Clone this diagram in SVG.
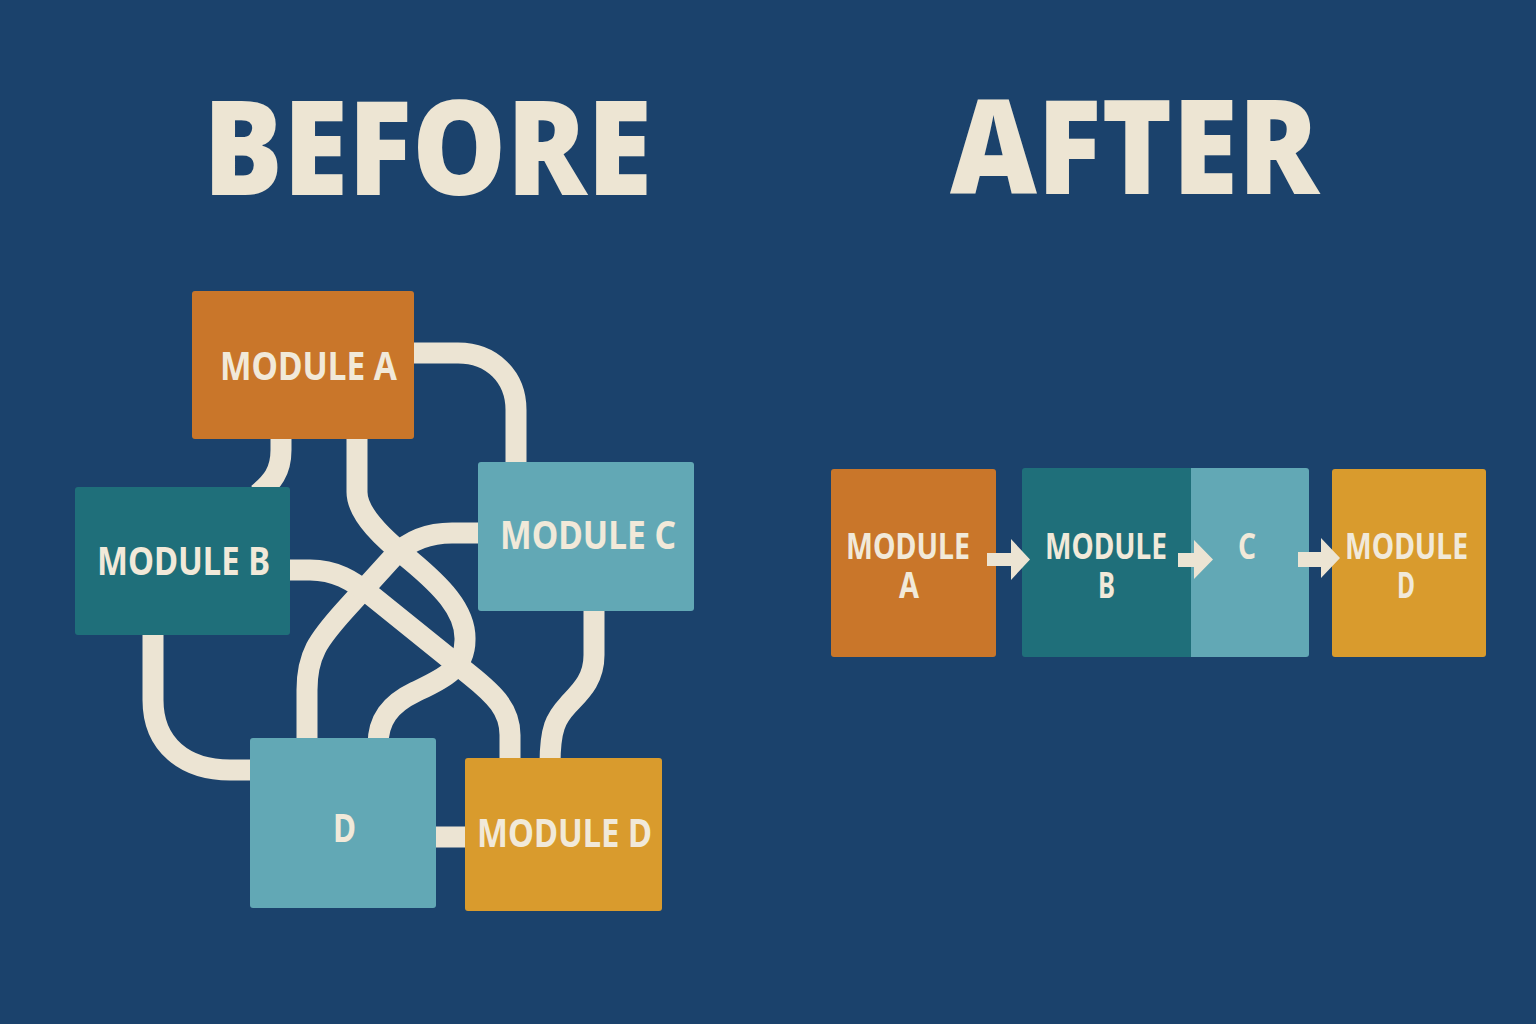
<svg xmlns="http://www.w3.org/2000/svg" width="1536" height="1024" viewBox="0 0 1536 1024">
<style>
.bg{fill:#1B426C}
.title{font-family:"Open Sans","Noto Sans",sans-serif;font-weight:800;font-size:132px;fill:#EDE5D3}
.lbl{font-family:"Noto Sans","Open Sans",sans-serif;font-weight:700;font-size:40px;fill:#F1E9D9}
.lbl2{font-family:"Noto Sans","Open Sans",sans-serif;font-weight:700;font-size:35px;fill:#F1E9D9}
.orange{fill:#C9762A}
.teal{fill:#1F6F7A}
.light{fill:#62A8B5}
.gold{fill:#D99B2D}
.tube{fill:none;stroke:#ECE4D3;stroke-width:21}
.arrow{fill:#ECE4D3}
</style>
<rect class="bg" x="0" y="0" width="1536" height="1024"/>
<text class="title" x="203" y="195" textLength="449" lengthAdjust="spacingAndGlyphs">BEFORE</text>
<text class="title" x="950" y="194" textLength="369" lengthAdjust="spacingAndGlyphs">AFTER</text>

<g id="connectors">
<path class="tube" d="M405,353 H458 C492,353 516,377 516,410 V468"/>
<path class="tube" d="M281,432 V450 C281,472 272,482 258,494"/>
<path class="tube" d="M357,432 V492 C357,515 385,540 410,560 C440,585 466,610 465,640 C465,670 440,680 415,692 C390,704 378,720 378,745"/>
<path class="tube" d="M485,533 H452 C428,533 410,540 395,555 L345,610 C318,640 307,655 307,690 V745"/>
<path class="tube" d="M282,570 H310 C335,570 352,580 372,596 L470,675 C495,695 510,710 510,735 V765"/>
<path class="tube" d="M594,604 V655 C594,680 580,692 568,705 C556,718 550,728 550,765"/>
<path class="tube" d="M153,628 V700 C153,745 185,770 230,770 H258"/>
<path class="tube" d="M430,837 H472"/>
</g>

<g id="before-module-a">
<rect class="orange" x="192" y="291" width="222" height="148" rx="3"/>
<text class="lbl" x="220" y="380" textLength="177" lengthAdjust="spacingAndGlyphs">MODULE A</text>
</g>
<g id="before-module-b">
<rect class="teal" x="75" y="487" width="215" height="148" rx="3"/>
<text class="lbl" x="97" y="575" textLength="173" lengthAdjust="spacingAndGlyphs">MODULE B</text>
</g>
<g id="before-module-c">
<rect class="light" x="478" y="462" width="216" height="149" rx="3"/>
<text class="lbl" x="500" y="549" textLength="176" lengthAdjust="spacingAndGlyphs">MODULE C</text>
</g>
<g id="before-d">
<rect class="light" x="250" y="738" width="186" height="170" rx="3"/>
<text class="lbl" x="333" y="842" textLength="23" lengthAdjust="spacingAndGlyphs">D</text>
</g>
<g id="before-module-d">
<rect class="gold" x="465" y="758" width="197" height="153" rx="3"/>
<text class="lbl" x="477" y="847" textLength="175" lengthAdjust="spacingAndGlyphs">MODULE D</text>
</g>

<g id="after-module-a">
<rect class="orange" x="831" y="469" width="165" height="188" rx="3"/>
<text class="lbl2" x="846" y="559" textLength="124" lengthAdjust="spacingAndGlyphs">MODULE</text>
<text class="lbl2" x="899" y="598" textLength="20" lengthAdjust="spacingAndGlyphs">A</text>
</g>
<g id="after-module-b">
<rect class="teal" x="1022" y="468" width="175" height="189" rx="3"/>
<text class="lbl2" x="1045" y="559" textLength="122" lengthAdjust="spacingAndGlyphs">MODULE</text>
<text class="lbl2" x="1098" y="598" textLength="17" lengthAdjust="spacingAndGlyphs">B</text>
</g>
<g id="after-c">
<path class="light" d="M1191,468 H1306 A3,3 0 0 1 1309,471 V654 A3,3 0 0 1 1306,657 H1191 Z"/>
<text class="lbl2" x="1238" y="559" textLength="18" lengthAdjust="spacingAndGlyphs">C</text>
</g>
<g id="after-module-d">
<rect class="gold" x="1332" y="469" width="154" height="188" rx="3"/>
<text class="lbl2" x="1345" y="559" textLength="123" lengthAdjust="spacingAndGlyphs">MODULE</text>
<text class="lbl2" x="1397" y="598" textLength="18" lengthAdjust="spacingAndGlyphs">D</text>
</g>

<g id="after-arrows">
<path class="arrow" d="M987,553 H1011 V539 L1030,559.5 L1011,580 V566 H987 Z"/>
<path class="arrow" d="M1178,553 H1194 V540 L1213,559.5 L1194,579 V567 H1178 Z"/>
<path class="arrow" d="M1298,552 H1321 V538 L1340,558 L1321,578 V567 H1298 Z"/>
</g>
</svg>
